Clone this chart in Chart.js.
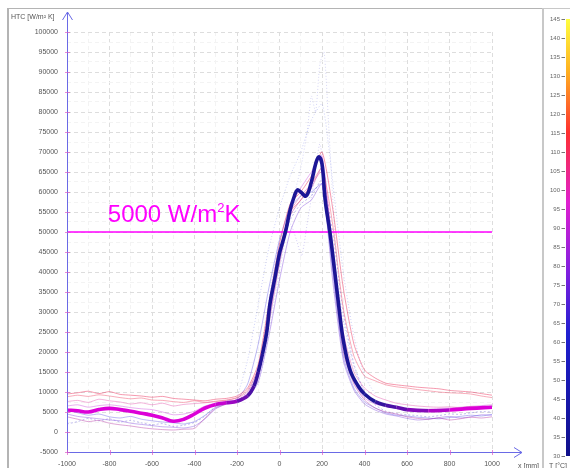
<!DOCTYPE html>
<html>
<head>
<meta charset="utf-8">
<script src="https://cdn.jsdelivr.net/npm/chart.js@4.4.1/dist/chart.umd.min.js"></script>
<style>
  html, body { margin: 0; padding: 0; background: #fff; }
  #wrap { width: 570px; height: 468px; position: relative; }
</style>
</head>
<body>
<div id="wrap"><canvas id="c"></canvas></div>
<script>
// x positions (mm) shared by the thin measurement lines
const xs = [-1000,-950,-900,-850,-800,-750,-700,-650,-600,-550,-500,-450,-400,-350,-300,-250,-200,-150,-100,-50,
  0,50,100,150,200,250,300,350,400,450,500,550,600,650,700,750,800,850,900,950,1000];

// thick averaged HTC curve
const meanX = [-1000,-950,-900,-850,-800,-750,-700,-650,-600,-550,-500,-450,-400,-350,-300,-250,-200,-150,-120,-100,
  -80,-60,-45,-20,0,15,30,50,70,84,100,125,150,170,185,200,215,237,260,280,300,332,370,400,450,500,550,600,700,800,900,1000];
const meanY = [5500,5300,5000,5600,5900,5600,5200,4700,4200,3500,2700,3200,4500,6000,6900,7300,7700,9000,11500,15000,
  19500,25000,32000,39000,44700,47500,50500,55500,59000,60500,60000,59000,62500,67000,68800,67000,58000,50000,40000,31000,23000,15500,11500,9500,7600,6700,6200,5600,5300,5500,5900,6200];

// thin single-run curves (same x as xs)
const red1 = [9500,9800,10200,9600,10100,9400,9200,9000,8700,8900,8400,8200,8000,7800,8200,8400,9000,11000,17000,32000,
  47000,57000,60000,64000,70000,56000,36000,22000,15500,13500,12200,11800,11500,11200,11000,10800,10400,10200,10000,9600,9200];
const red2 = [8800,9200,8900,9300,9000,8600,8300,8500,8000,7900,7600,7400,7800,7400,7700,8000,8600,10500,16000,30000,
  45000,55000,58000,62000,66000,52000,31000,19000,14000,12800,11800,11300,11000,10600,10300,10000,9800,9700,9500,9000,8600];
const pink3 = [7600,7900,7400,8200,7800,7500,7000,7300,6800,7200,6500,6900,7100,7300,7600,7900,8500,10000,15000,29000,
  43000,55000,59000,62000,65000,47000,25000,15000,11000,9000,8000,7200,6800,6500,6300,6200,6300,6100,6400,6300,6500];
const blue1 = [3800,3200,2600,2900,2200,1800,1500,1100,800,600,500,700,900,3500,6000,7000,8000,9500,14000,27000,
  42000,54000,58000,61000,66000,42000,20000,12000,8000,6000,5000,4500,3800,3400,3200,3500,3000,3300,3700,3500,3800];
const blue2 = [5500,4800,4200,4500,3800,3500,3900,3200,2800,2500,2300,2000,2600,4200,6200,7200,8200,12000,22000,36000,
  48000,56000,59000,60000,62000,40000,19000,11000,7500,6000,4800,4200,4000,3700,3500,3300,3600,3900,4200,4000,4400];
const blue3 = [4500,3900,3600,3300,3000,2800,2200,1900,1600,1300,1200,1000,1500,3300,5800,7000,7600,8800,12500,24000,
  38000,50000,56000,58000,62000,38000,18000,10500,7000,5500,4500,4000,3400,3000,3200,3600,3900,3500,3800,4300,4200];
const mag4 = [6500,6800,6200,6600,6800,6500,6100,5800,5600,5000,4300,4500,5200,6500,7200,7500,8000,9500,14000,28000,
  44000,56000,61000,65000,69000,45000,22000,12500,8500,7000,6400,6000,5800,5600,5700,5900,6000,6200,6400,6600,6800];
const blue5 = [2000,2600,3400,2800,3300,2500,2900,2300,1800,2100,1400,1700,2400,4000,6400,7200,7900,10000,16000,30000,
  44000,53000,57000,59000,63000,50000,30000,17000,10000,6800,5200,4600,4300,4100,3800,4100,4500,4400,4800,5100,5000];

// dotted scattered runs around the peak
const dot1X = [-150,-100,-50,0,50,100,130,150,170,190,210,230,260,300,350,400];
const dot1Y = [9000,12000,25000,40000,55000,66000,75000,84000,80000,92000,95000,78000,50000,25000,13000,9000];
const dot2X = [-150,-100,-50,0,50,80,104,130,160,190,220,250,300,350,400];
const dot2Y = [9500,16000,33000,48000,52000,48000,44000,52000,62000,72000,60000,45000,28000,16000,10000];
const dot3X = [-200,-150,-100,-50,0,50,100,150,200,230,260,300,350,400,450];
const dot3Y = [8500,18000,32000,46000,56000,64000,70000,78000,82000,72000,58000,40000,24000,14000,9500];

// 50000 reference level
const refX = [-1000, 1000];
const refY = [50000, 50000];

const tempTicks = [145,140,135,130,125,120,115,110,105,100,95,90,85,80,75,70,65,60,55,50,45,40,35,30];

const pts = (a, b) => a.map((x, i) => ({ x: x, y: b[i] }));

// temperature-like colour along the thick line
function mix(c1, c2, t) {
  t = Math.max(0, Math.min(1, t));
  return 'rgb(' + c1.map((v, i) => Math.round(v + (c2[i] - v) * t)).join(',') + ')';
}
const MAG = [220, 0, 215], NAVY = [28, 22, 150];
function colorAt(x) {
  if (x < -300) return mix(MAG, NAVY, 0);
  if (x < -80) return mix(MAG, NAVY, (x + 300) / 220);
  if (x < 420) return mix(MAG, NAVY, 1);
  if (x < 850) return mix(MAG, NAVY, 1 - (x - 420) / 430);
  return mix(MAG, NAVY, 0);
}

function thin(data, color, dash) {
  return {
    data: data, borderColor: color, borderWidth: 0.8, pointRadius: 0,
    tension: 0.2, borderDash: dash || [], order: 5
  };
}

const decor = {
  id: 'decor',
  beforeDraw(chart) {
    const ctx = chart.ctx;
    ctx.save();
    ctx.fillStyle = '#fff';
    ctx.fillRect(0, 0, chart.width, chart.height);
    // panel frame
    ctx.fillStyle = '#b4b4b4';
    ctx.fillRect(7, 8, 2, 460);
    ctx.fillRect(7, 8, 535, 1);
    ctx.fillStyle = '#c8c8c8';
    ctx.fillRect(542, 8, 2, 460);
    ctx.fillRect(544, 8, 26, 1);
    ctx.restore();
  },
  afterDraw(chart) {
    const ctx = chart.ctx;
    const xS = chart.scales.x, yS = chart.scales.y;
    const a = chart.chartArea;
    ctx.save();
    // axes with arrows
    ctx.strokeStyle = '#6a6ae6';
    ctx.lineWidth = 1;
    ctx.beginPath();
    ctx.moveTo(a.left + 0.5, a.bottom);
    ctx.lineTo(a.left + 0.5, 12);
    ctx.moveTo(a.left - 4.5, 20); ctx.lineTo(a.left + 0.5, 12); ctx.lineTo(a.left + 5.5, 20);
    ctx.moveTo(a.left, a.bottom + 0.5);
    ctx.lineTo(522, a.bottom + 0.5);
    ctx.moveTo(514, a.bottom - 4.5); ctx.lineTo(522, a.bottom + 0.5); ctx.lineTo(514, a.bottom + 5.5);
    ctx.stroke();
    // small tick crosses on the axes
    ctx.strokeStyle = 'rgba(220,90,200,0.7)';
    ctx.beginPath();
    for (let v = -5000; v <= 100000; v += 5000) {
      const py = Math.round(yS.getPixelForValue(v)) + 0.5;
      ctx.moveTo(a.left - 2, py); ctx.lineTo(a.left + 3, py);
    }
    for (let v = -1000; v <= 1000; v += 200) {
      const px = Math.round(xS.getPixelForValue(v)) + 0.5;
      ctx.moveTo(px, a.bottom - 2); ctx.lineTo(px, a.bottom + 3);
    }
    ctx.stroke();
    // axis titles
    ctx.fillStyle = '#555';
    ctx.font = '7px "Liberation Sans", Arial, sans-serif';
    ctx.textBaseline = 'alphabetic';
    ctx.textAlign = 'left';
    ctx.fillText('HTC [W/m² K]', 11, 19);
    ctx.fillText('x [mm]', 518, 468);
    ctx.fillText('T [°C]', 549, 468);
    // reference annotation
    ctx.fillStyle = '#ff00ff';
    const tx = xS.getPixelForValue(-808), ty = yS.getPixelForValue(52600);
    ctx.font = '24px "Liberation Sans", Arial, sans-serif';
    const s = '5000 W/m';
    ctx.fillText(s, tx, ty);
    const w = ctx.measureText(s).width;
    ctx.font = '13px "Liberation Sans", Arial, sans-serif';
    ctx.fillText('2', tx + w, ty - 10);
    const w2 = ctx.measureText('2').width;
    ctx.font = '24px "Liberation Sans", Arial, sans-serif';
    ctx.fillText('K', tx + w + w2, ty);
    // temperature colour bar
    const top = 19, bot = 456;
    const g = ctx.createLinearGradient(0, top, 0, bot);
    g.addColorStop(0, '#ffff40');
    g.addColorStop(0.12, '#ffb020');
    g.addColorStop(0.26, '#ff3030');
    g.addColorStop(0.42, '#e020d0');
    g.addColorStop(0.58, '#8020e0');
    g.addColorStop(0.72, '#2020d0');
    g.addColorStop(1, '#10108a');
    ctx.fillStyle = g;
    ctx.fillRect(566, top, 4, bot - top);
    ctx.fillStyle = '#666';
    ctx.strokeStyle = '#777';
    ctx.font = '6px "Liberation Sans", Arial, sans-serif';
    ctx.textAlign = 'right';
    ctx.textBaseline = 'middle';
    tempTicks.forEach(t => {
      const py = top + (145 - t) / 115 * (bot - top);
      ctx.fillText(String(t), 560, py);
      ctx.beginPath();
      ctx.moveTo(561.5, Math.round(py) + 0.5); ctx.lineTo(565, Math.round(py) + 0.5);
      ctx.stroke();
    });
    ctx.restore();
  }
};

new Chart(document.getElementById('c'), {
  type: 'line',
  data: {
    datasets: [
      {
        data: pts(meanX, meanY), borderWidth: 3.6, pointRadius: 0, tension: 0.4, order: 1,
        borderColor: '#1c1696',
        segment: { borderColor: c => colorAt((c.p0.parsed.x + c.p1.parsed.x) / 2) }
      },
      { data: pts(refX, refY), borderColor: '#ff00ff', borderWidth: 1.6, pointRadius: 0, order: 2 },
      thin(pts(xs, red1), 'rgba(235,60,100,0.65)'),
      thin(pts(xs, red2), 'rgba(240,80,110,0.6)'),
      thin(pts(xs, pink3), 'rgba(225,80,170,0.55)'),
      thin(pts(xs, blue1), 'rgba(180,50,160,0.55)'),
      thin(pts(xs, blue2), 'rgba(90,80,230,0.5)'),
      thin(pts(xs, blue3), 'rgba(120,60,220,0.5)'),
      thin(pts(xs, mag4), 'rgba(200,60,220,0.5)'),
      thin(pts(xs, blue5), 'rgba(80,70,210,0.45)', [2, 2]),
      thin(pts(dot1X, dot1Y), 'rgba(110,110,220,0.35)', [1, 2]),
      thin(pts(dot2X, dot2Y), 'rgba(120,100,220,0.4)', [1, 2]),
      thin(pts(dot3X, dot3Y), 'rgba(100,110,230,0.4)', [1, 2])
    ]
  },
  options: {
    responsive: true,
    maintainAspectRatio: false,
    animation: false,
    layout: { padding: { left: 8, top: 32, right: 78, bottom: 0 } },
    plugins: { legend: { display: false }, tooltip: { enabled: false } },
    scales: {
      x: {
        type: 'linear', min: -1000, max: 1000,
        afterFit: s => { s.height = 16; },
        border: { display: false, dash: [4, 3] },
        grid: {
          color: c => (c.tick.value % 200 === 0 ? '#dddddd' : '#f3f3f3'),
          tickLength: 4, tickColor: 'rgba(0,0,0,0)'
        },
        ticks: {
          stepSize: 100, autoSkip: false, maxRotation: 0, padding: 4,
          color: '#555', font: { size: 7, family: '"Liberation Sans", Arial, sans-serif' },
          callback: v => (v % 200 === 0 ? String(v) : '')
        }
      },
      y: {
        type: 'linear', min: -5000, max: 100000,
        afterFit: s => { s.width = 59; },
        border: { display: false, dash: [4, 3] },
        grid: {
          color: c => (c.tick.value % 5000 === 0 ? '#dddddd' : '#f3f3f3'),
          tickLength: 4, tickColor: 'rgba(0,0,0,0)'
        },
        ticks: {
          stepSize: 2500, autoSkip: false, padding: 5,
          color: '#555', font: { size: 7, family: '"Liberation Sans", Arial, sans-serif' },
          callback: v => (v % 5000 === 0 ? String(v) : '')
        }
      }
    }
  },
  plugins: [decor]
});
</script>
</body>
</html>
